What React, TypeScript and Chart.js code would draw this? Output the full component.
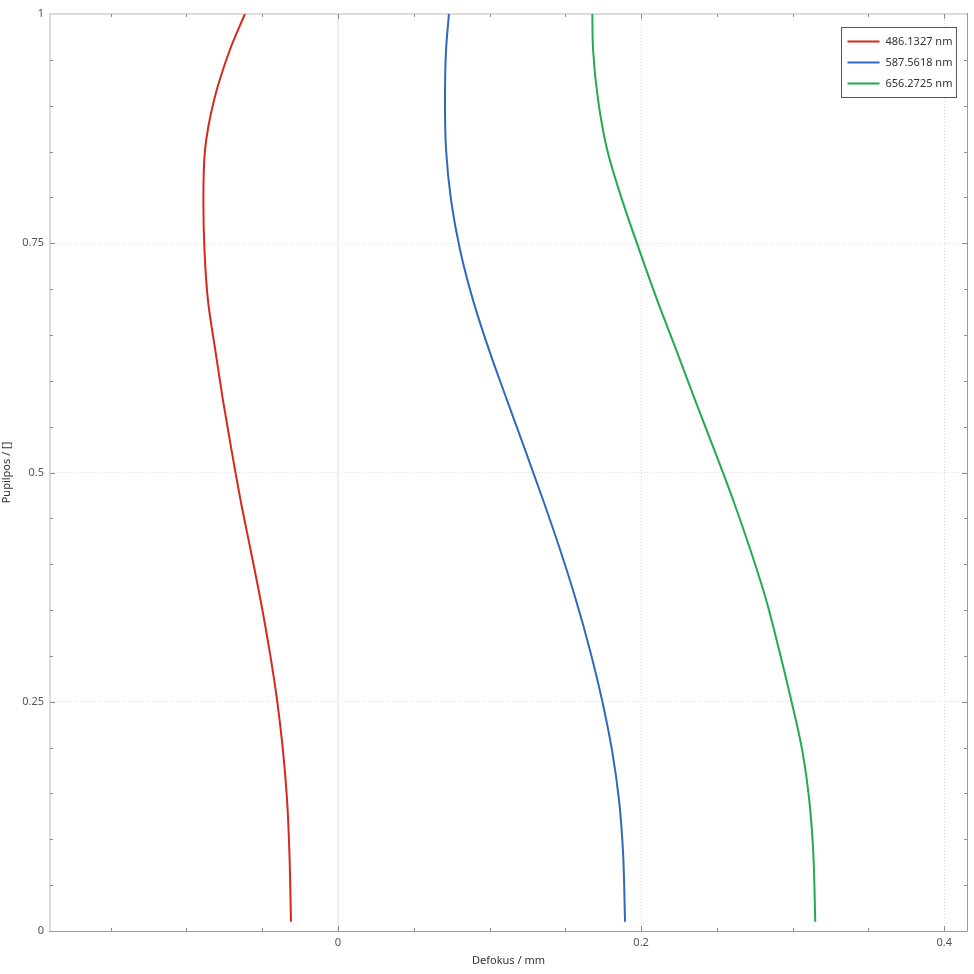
import React, { useEffect, useRef } from "react";
import { Chart, registerables } from "chart.js";

Chart.register(...registerables);

// Pupil coordinate (normalized)
const pupil = [0.01, 0.088, 0.143, 0.197, 0.252, 0.306, 0.361, 0.416, 0.47, 0.525, 0.579, 0.634, 0.688, 0.743, 0.797, 0.852, 0.906, 0.961, 1.0];
// Longitudinal defocus (mm) per wavelength
const defocus486 = [-0.031, -0.0321, -0.0336, -0.0363, -0.0402, -0.0452, -0.0511, -0.0577, -0.0643, -0.0703, -0.0759, -0.081, -0.0858, -0.0881, -0.0888, -0.0877, -0.0818, -0.0713, -0.0614];
const defocus588 = [0.1894, 0.188, 0.1854, 0.1808, 0.1742, 0.1663, 0.157, 0.1465, 0.1353, 0.1234, 0.1115, 0.0996, 0.0891, 0.0805, 0.0746, 0.0713, 0.0706, 0.0713, 0.0732];
const defocus656 = [0.3149, 0.3135, 0.3109, 0.3063, 0.299, 0.2911, 0.2825, 0.272, 0.2607, 0.2482, 0.2356, 0.2231, 0.2106, 0.1987, 0.1875, 0.1776, 0.1716, 0.1683, 0.1678];

const seriesLabels = ["486.1327 nm", "587.5618 nm", "656.2725 nm"];
const seriesColors = ["#d6281b", "#2f69bd", "#20ab4c"];

const xMajorTicks = [0, 0.2, 0.4];
const xTickLabels = ["0", "0.2", "0.4"];
const yMajorTicks = [0, 0.25, 0.5, 0.75, 1];
const yTickLabels = ["0", "0.25", "0.5", "0.75", "1"];
const xMinorStep = 0.05;
const yMinorStep = 0.05;

const xTitle = "Defokus / mm";
const yTitle = "Pupilpos / []";

const FONT = "'Noto Sans', 'Open Sans', 'DejaVu Sans', sans-serif";

function minorValues(min: number, max: number, step: number): number[] {
  const out: number[] = [];
  const start = Math.ceil(min / step - 1e-9);
  const end = Math.floor(max / step + 1e-9);
  for (let i = start; i <= end; i++) out.push(+(i * step).toFixed(6));
  return out;
}

const frameAndTicks = {
  id: "frameAndTicks",
  beforeDatasetsDraw(chart: any) {
    const { ctx, chartArea: a, scales } = chart;
    const xs = scales.x;
    const ys = scales.y;
    ctx.save();
    ctx.lineWidth = 2;
    ctx.strokeStyle = "#dcdcdc";
    ctx.beginPath();
    ctx.moveTo(a.left, a.bottom);
    ctx.lineTo(a.left, a.top);
    ctx.lineTo(a.right, a.top);
    ctx.stroke();
    ctx.lineWidth = 1;
    ctx.strokeStyle = "#9a9a9a";
    ctx.beginPath();
    ctx.moveTo(a.left - 1, a.bottom + 0.5);
    ctx.lineTo(a.right + 0.5, a.bottom + 0.5);
    ctx.moveTo(a.right + 0.5, a.bottom + 0.5);
    ctx.lineTo(a.right + 0.5, a.top - 1);
    ctx.stroke();

    ctx.lineWidth = 1;
    ctx.strokeStyle = "#8a8a8a";
    const xMinor = minorValues(xs.min, xs.max, xMinorStep);
    ctx.beginPath();
    for (const v of xMinor) {
      const isMajor = xMajorTicks.some((m) => Math.abs(m - v) < 1e-6);
      const len = isMajor ? 5 : 3;
      const px = Math.round(xs.getPixelForValue(v)) + 0.5;
      ctx.moveTo(px, a.bottom);
      ctx.lineTo(px, a.bottom - len);
      ctx.moveTo(px, a.top);
      ctx.lineTo(px, a.top + len);
    }
    const yMinor = minorValues(ys.min, ys.max, yMinorStep);
    for (const v of yMinor) {
      if (v <= ys.min + 1e-9 || v >= ys.max - 1e-9) continue;
      const isMajor = yMajorTicks.some((m) => Math.abs(m - v) < 1e-6);
      const len = isMajor ? 5 : 3;
      const py = Math.round(ys.getPixelForValue(v)) + 0.5;
      ctx.moveTo(a.left, py);
      ctx.lineTo(a.left + len, py);
      ctx.moveTo(a.right, py);
      ctx.lineTo(a.right - len, py);
    }
    ctx.stroke();
    ctx.restore();
  },
};

const boxLegend = {
  id: "boxLegend",
  afterDraw(chart: any) {
    const { ctx, chartArea: a } = chart;
    const w = 115;
    const h = 70;
    const x0 = Math.round(a.right - 126) + 0.5;
    const y0 = Math.round(a.top + 13) + 0.5;
    ctx.save();
    ctx.fillStyle = "#ffffff";
    ctx.fillRect(x0, y0, w, h);
    ctx.strokeStyle = "#555555";
    ctx.lineWidth = 1;
    ctx.strokeRect(x0, y0, w, h);
    ctx.font = `11px ${FONT}`;
    ctx.textBaseline = "middle";
    ctx.textAlign = "left";
    chart.data.datasets.forEach((ds: any, i: number) => {
      const yy = y0 + 14 + i * 21;
      ctx.strokeStyle = ds.borderColor;
      ctx.lineWidth = 2;
      ctx.beginPath();
      ctx.moveTo(x0 + 6, yy);
      ctx.lineTo(x0 + 38, yy);
      ctx.stroke();
      ctx.fillStyle = "#333333";
      ctx.fillText(ds.label, x0 + 44, yy);
    });
    ctx.restore();
  },
};

export default function App() {
  const canvasRef = useRef<HTMLCanvasElement | null>(null);

  useEffect(() => {
    const canvas = canvasRef.current;
    if (!canvas) return;
    const series = [defocus486, defocus588, defocus656];
    const chart = new Chart(canvas, {
      type: "line",
      data: {
        datasets: series.map((vals, i) => ({
          label: seriesLabels[i],
          data: vals.map((x, j) => ({ x, y: pupil[j] })),
          borderColor: seriesColors[i],
          backgroundColor: seriesColors[i],
          borderWidth: 2,
          pointRadius: 0,
          pointHoverRadius: 0,
          cubicInterpolationMode: "monotone",
          fill: false,
        })),
      },
      options: {
        indexAxis: "y",
        responsive: false,
        animation: false,
        maintainAspectRatio: false,
        layout: { padding: { top: 14, right: 7, left: 0, bottom: 0 } },
        plugins: {
          legend: { display: false },
          tooltip: { enabled: false },
        },
        scales: {
          x: {
            type: "linear",
            position: "bottom",
            min: -0.19,
            max: 0.415,
            afterBuildTicks: (scale: any) => {
              scale.ticks = xMajorTicks.map((v) => ({ value: v }));
            },
            afterFit: (scale: any) => {
              scale.height = 43;
            },
            ticks: {
              padding: 5,
              color: "#555555",
              font: { family: FONT, size: 11 },
              maxRotation: 0,
              callback: (v: any) => {
                const idx = xMajorTicks.findIndex((m) => Math.abs(m - Number(v)) < 1e-9);
                return idx >= 0 ? xTickLabels[idx] : "";
              },
            },
            grid: {
              drawTicks: false,
              color: (c: any) => (c.tick && c.tick.value === 0 ? "#eeeeee" : "#dadada"),
              lineWidth: (c: any) => (c.tick && c.tick.value === 0 ? 2 : 1),
            },
            border: {
              display: false,
              dash: (c: any) => (c.tick && c.tick.value === 0 ? [] : [1, 2]),
            },
            title: {
              display: true,
              text: xTitle,
              color: "#333333",
              font: { family: FONT, size: 11 },
              padding: { top: 0, bottom: 7 },
            },
          },
          y: {
            type: "linear",
            position: "left",
            reverse: false,
            min: 0,
            max: 1,
            afterBuildTicks: (scale: any) => {
              scale.ticks = yMajorTicks.map((v) => ({ value: v }));
            },
            afterFit: (scale: any) => {
              scale.width = 50;
            },
            ticks: {
              padding: 6,
              color: "#555555",
              font: { family: FONT, size: 11 },
              callback: (v: any) => {
                const idx = yMajorTicks.findIndex((m) => Math.abs(m - Number(v)) < 1e-9);
                return idx >= 0 ? yTickLabels[idx] : "";
              },
            },
            grid: {
              drawTicks: false,
              color: (c: any) =>
                c.tick && (c.tick.value === 0 || c.tick.value === 1) ? "rgba(0,0,0,0)" : "#dedede",
              lineWidth: 1,
            },
            border: {
              display: false,
              dash: [1, 2],
            },
            title: {
              display: true,
              text: yTitle,
              color: "#333333",
              font: { family: FONT, size: 11 },
              padding: { top: 0, bottom: 0 },
            },
          },
        },
      },
      plugins: [frameAndTicks, boxLegend],
    });
    return () => chart.destroy();
  }, []);

  return (
    <div style={{ position: "fixed", left: 0, top: 0, width: 974, height: 974, background: "#ffffff" }}>
      <canvas ref={canvasRef} width={974} height={974} style={{ width: 974, height: 974, display: "block" }} />
    </div>
  );
}
